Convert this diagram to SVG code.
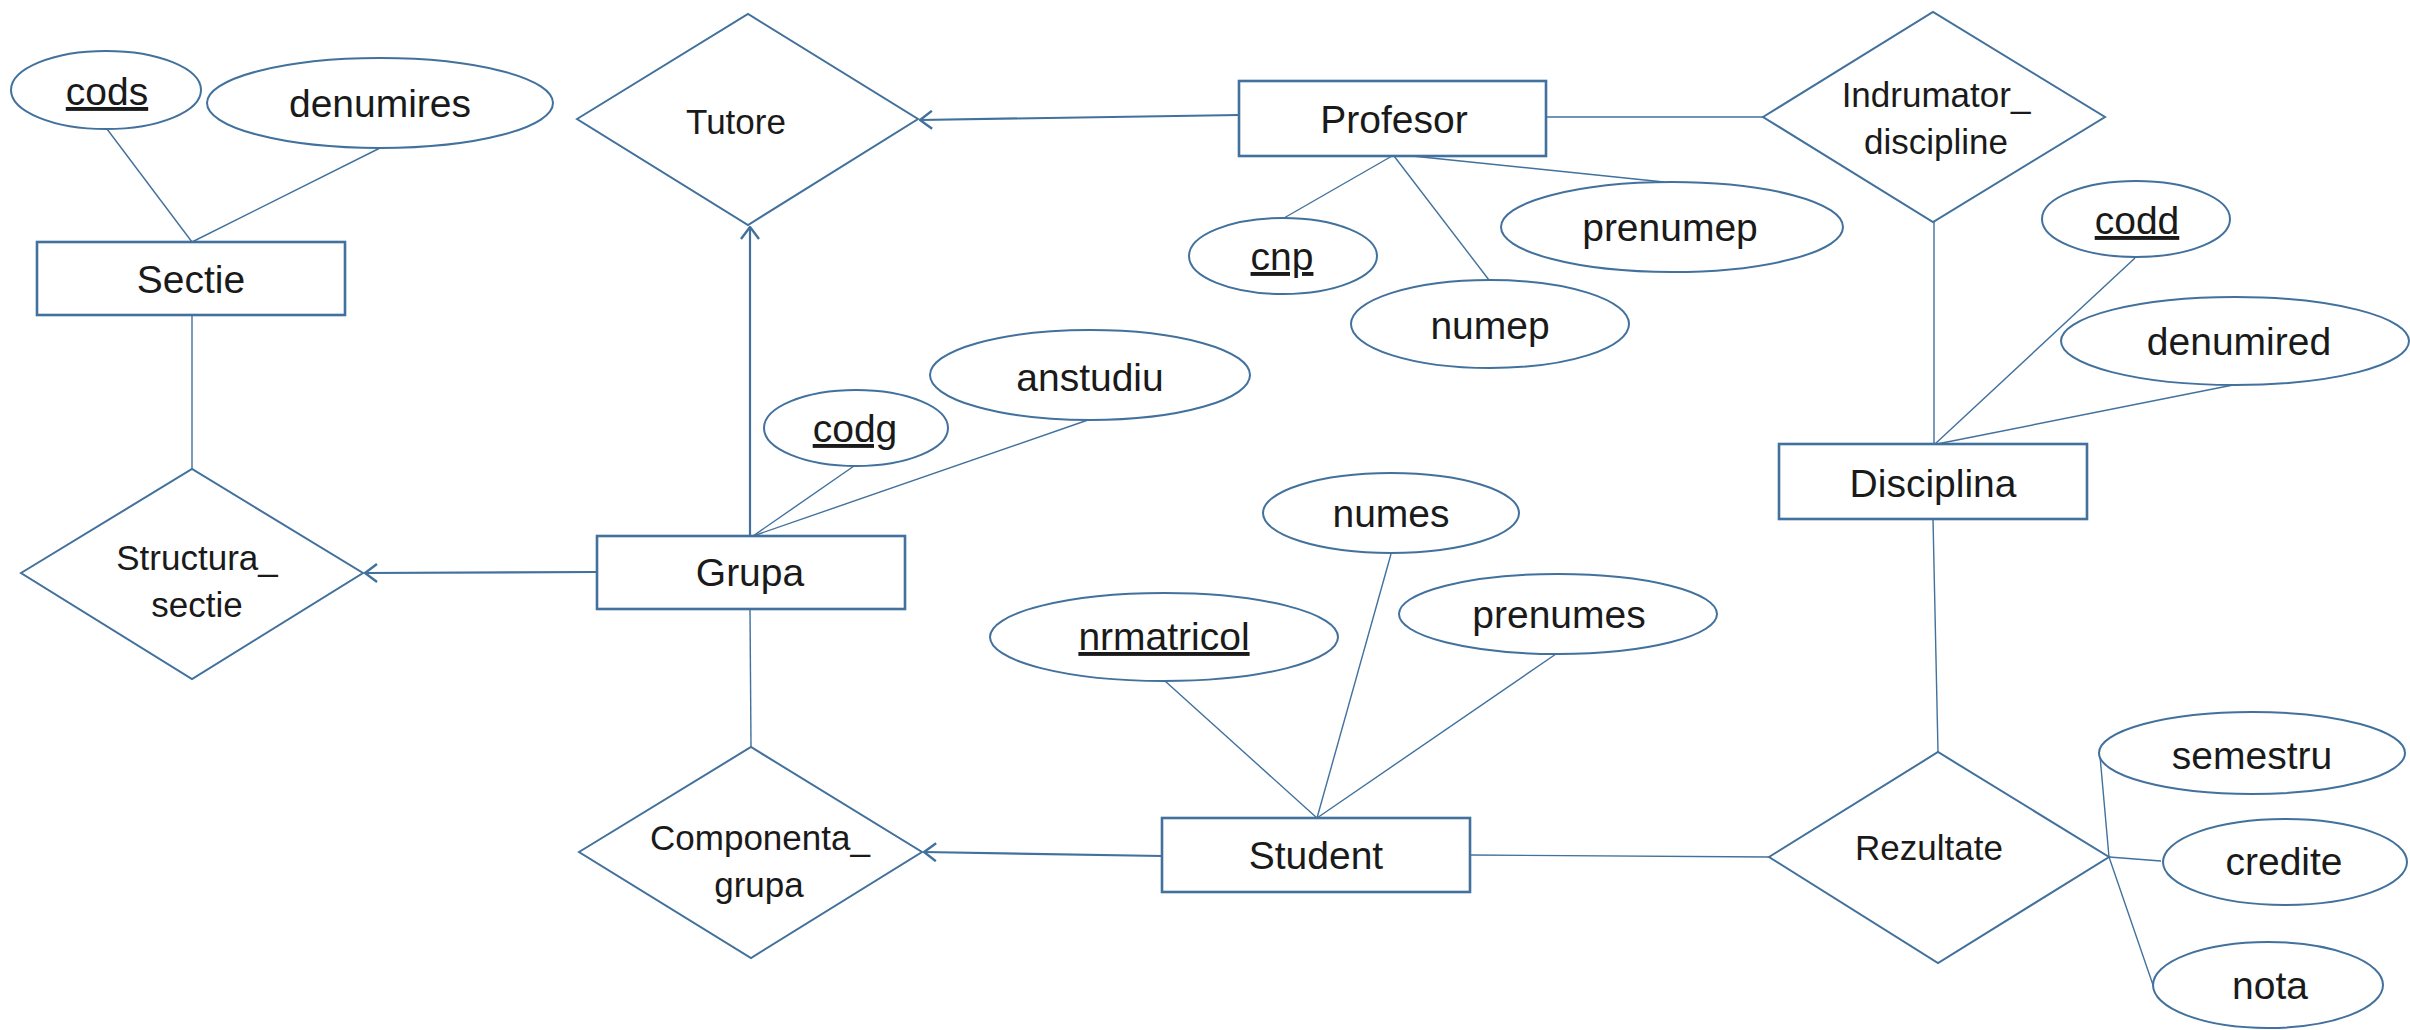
<svg xmlns="http://www.w3.org/2000/svg" width="2410" height="1030" viewBox="0 0 2410 1030">
  <style>
    .ent { fill: #ffffff; stroke: #41719C; stroke-width: 2.6; }
    .att { fill: #ffffff; stroke: #41719C; stroke-width: 2; }
    .rel { fill: #ffffff; stroke: #41719C; stroke-width: 2; }
    .lnk { fill: none; stroke: #41719C; stroke-width: 1.4; }
    .arr { fill: none; stroke: #41719C; stroke-width: 2.2; }
    text { font-family: "Liberation Sans", Arial, sans-serif; fill: #1a1a1a; text-anchor: middle; }
    .t { font-size: 39px; }
    .r { font-size: 35px; }
    .key { text-decoration: underline; }
  </style>
  <defs>
    <marker id="open" viewBox="0 0 14 20" refX="13" refY="10" markerWidth="14" markerHeight="20" markerUnits="userSpaceOnUse" orient="auto">
      <path d="M1,1 L13,10 L1,19" fill="none" stroke="#41719C" stroke-width="2.4"/>
    </marker>
  </defs>

  <!-- connectors -->
  <g id="connectors">
    <!-- Sectie attributes -->
    <line class="lnk" x1="107" y1="129" x2="192" y2="242"/>
    <line class="lnk" x1="380" y1="148" x2="192" y2="242"/>
    <line class="lnk" x1="192" y1="315" x2="192" y2="469"/>
    <!-- Profesor -->
    <line class="arr" x1="1239" y1="115" x2="920" y2="120" marker-end="url(#open)"/>
    <line class="lnk" x1="1546" y1="117" x2="1763" y2="117"/>
    <line class="lnk" x1="1392" y1="156" x2="1284" y2="218"/>
    <line class="lnk" x1="1394" y1="156" x2="1489" y2="280"/>
    <line class="lnk" x1="1412" y1="156" x2="1664" y2="182"/>
    <!-- Disciplina -->
    <line class="lnk" x1="1934" y1="222" x2="1934" y2="444"/>
    <line class="lnk" x1="2135" y1="258" x2="1935" y2="444"/>
    <line class="lnk" x1="2233" y1="385" x2="1937" y2="444"/>
    <line class="lnk" x1="1933" y1="519" x2="1938" y2="752"/>
    <!-- Grupa -->
    <line class="arr" x1="750" y1="536" x2="750" y2="227" marker-end="url(#open)"/>
    <line class="arr" x1="597" y1="572" x2="365" y2="573" marker-end="url(#open)"/>
    <line class="lnk" x1="854" y1="466" x2="753" y2="536"/>
    <line class="lnk" x1="1088" y1="420" x2="753" y2="536"/>
    <line class="lnk" x1="750" y1="609" x2="751" y2="747"/>
    <!-- Student -->
    <line class="arr" x1="1162" y1="856" x2="924" y2="852" marker-end="url(#open)"/>
    <line class="lnk" x1="1165" y1="681" x2="1317" y2="818"/>
    <line class="lnk" x1="1391" y1="554" x2="1317" y2="818"/>
    <line class="lnk" x1="1556" y1="654" x2="1317" y2="818"/>
    <line class="lnk" x1="1470" y1="855" x2="1769" y2="857"/>
    <!-- Rezultate attributes -->
    <line class="lnk" x1="2100" y1="756" x2="2109" y2="857"/>
    <line class="lnk" x1="2109" y1="857" x2="2161" y2="861"/>
    <line class="lnk" x1="2109" y1="857" x2="2153" y2="985"/>
  </g>

  <!-- entities -->
  <g id="sectie">
    <rect class="ent" x="37" y="242" width="308" height="73"/>
    <text class="t" x="191" y="293">Sectie</text>
  </g>
  <g id="profesor">
    <rect class="ent" x="1239" y="81" width="307" height="75"/>
    <text class="t" x="1394" y="133">Profesor</text>
  </g>
  <g id="disciplina">
    <rect class="ent" x="1779" y="444" width="308" height="75"/>
    <text class="t" x="1933" y="497">Disciplina</text>
  </g>
  <g id="grupa">
    <rect class="ent" x="597" y="536" width="308" height="73"/>
    <text class="t" x="750" y="586">Grupa</text>
  </g>
  <g id="student">
    <rect class="ent" x="1162" y="818" width="308" height="74"/>
    <text class="t" x="1316" y="869">Student</text>
  </g>

  <!-- relationships -->
  <g id="tutore">
    <polygon class="rel" points="577,119 748,14 918,119 748,225"/>
    <text class="r" x="736" y="134">Tutore</text>
  </g>
  <g id="structura_sectie">
    <polygon class="rel" points="21,573 192,469 363,573 192,679"/>
    <text class="r" x="197" y="570">Structura_</text>
    <text class="r" x="197" y="617">sectie</text>
  </g>
  <g id="indrumator_discipline">
    <polygon class="rel" points="1763,117 1933,12 2105,117 1933,222"/>
    <text class="r" x="1936" y="107">Indrumator_</text>
    <text class="r" x="1936" y="154">discipline</text>
  </g>
  <g id="componenta_grupa">
    <polygon class="rel" points="579,852 751,747 922,852 751,958"/>
    <text class="r" x="760" y="850">Componenta_</text>
    <text class="r" x="759" y="897">grupa</text>
  </g>
  <g id="rezultate">
    <polygon class="rel" points="1769,857 1938,752 2109,857 1938,963"/>
    <text class="r" x="1929" y="860">Rezultate</text>
  </g>

  <!-- attributes -->
  <g id="cods">
    <ellipse class="att" cx="106" cy="90" rx="95" ry="39"/>
    <text class="t key" x="107" y="105">cods</text>
  </g>
  <g id="denumires">
    <ellipse class="att" cx="380" cy="103" rx="173" ry="45"/>
    <text class="t" x="380" y="117">denumires</text>
  </g>
  <g id="cnp">
    <ellipse class="att" cx="1283" cy="256" rx="94" ry="38"/>
    <text class="t key" x="1282" y="270">cnp</text>
  </g>
  <g id="numep">
    <ellipse class="att" cx="1490" cy="324" rx="139" ry="44"/>
    <text class="t" x="1490" y="339">numep</text>
  </g>
  <g id="prenumep">
    <ellipse class="att" cx="1672" cy="227" rx="171" ry="45"/>
    <text class="t" x="1670" y="241">prenumep</text>
  </g>
  <g id="codd">
    <ellipse class="att" cx="2136" cy="219" rx="94" ry="38"/>
    <text class="t key" x="2137" y="234">codd</text>
  </g>
  <g id="denumired">
    <ellipse class="att" cx="2235" cy="341" rx="174" ry="44"/>
    <text class="t" x="2239" y="355">denumired</text>
  </g>
  <g id="codg">
    <ellipse class="att" cx="856" cy="428" rx="92" ry="38"/>
    <text class="t key" x="855" y="442">codg</text>
  </g>
  <g id="anstudiu">
    <ellipse class="att" cx="1090" cy="375" rx="160" ry="45"/>
    <text class="t" x="1090" y="391">anstudiu</text>
  </g>
  <g id="nrmatricol">
    <ellipse class="att" cx="1164" cy="637" rx="174" ry="44"/>
    <text class="t key" x="1164" y="650">nrmatricol</text>
  </g>
  <g id="numes">
    <ellipse class="att" cx="1391" cy="513" rx="128" ry="40"/>
    <text class="t" x="1391" y="527">numes</text>
  </g>
  <g id="prenumes">
    <ellipse class="att" cx="1558" cy="614" rx="159" ry="40"/>
    <text class="t" x="1559" y="628">prenumes</text>
  </g>
  <g id="semestru">
    <ellipse class="att" cx="2252" cy="753" rx="153" ry="41"/>
    <text class="t" x="2252" y="769">semestru</text>
  </g>
  <g id="credite">
    <ellipse class="att" cx="2285" cy="862" rx="122" ry="43"/>
    <text class="t" x="2284" y="875">credite</text>
  </g>
  <g id="nota">
    <ellipse class="att" cx="2268" cy="985" rx="115" ry="43"/>
    <text class="t" x="2270" y="999">nota</text>
  </g>
</svg>
